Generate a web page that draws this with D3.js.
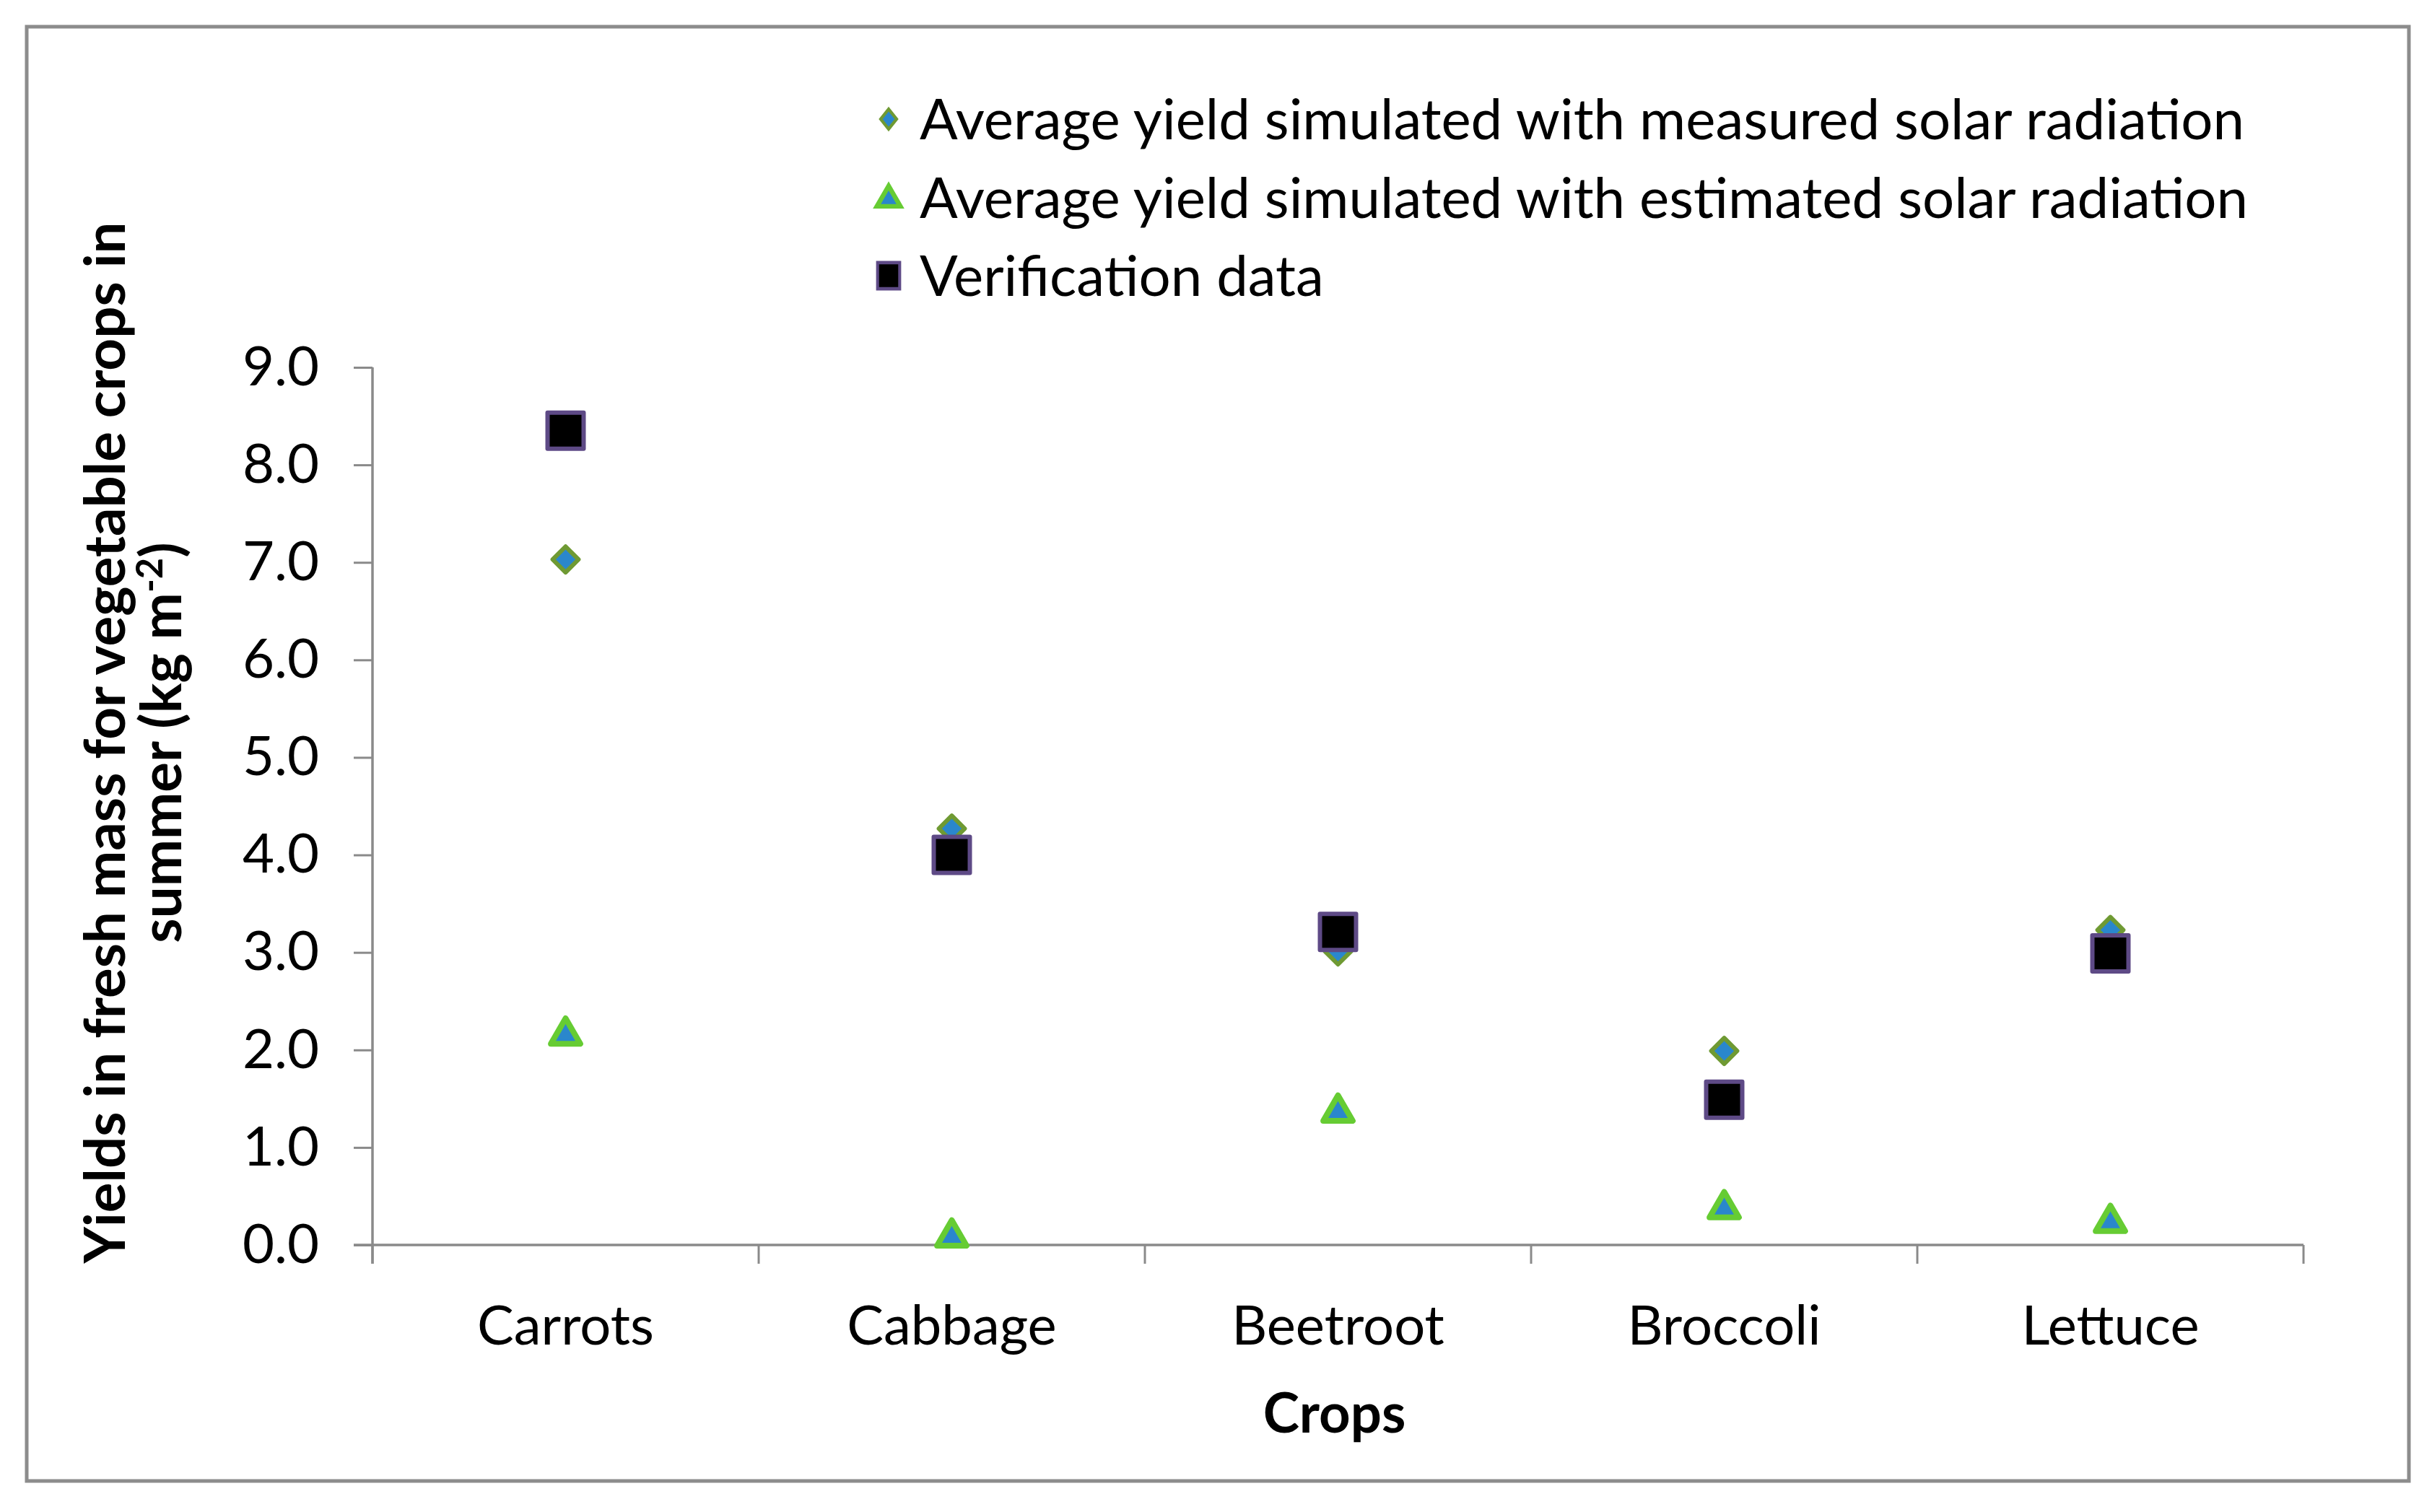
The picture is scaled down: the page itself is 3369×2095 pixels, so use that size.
<!DOCTYPE html>
<html>
<head>
<meta charset="utf-8">
<script src="https://cdn.jsdelivr.net/npm/d3@7"></script>
<style>
  body { margin: 0; background: #fff; }
  text { font-family: Lato, "Open Sans", sans-serif; fill: #000; }
</style>
</head>
<body>
<div id="chart"></div>
<script>
const crops = ['Carrots', 'Cabbage', 'Beetroot', 'Broccoli', 'Lettuce']
const measured = [7.03, 4.27, 3.01, 1.99, 3.23]
const estimated = [2.15, 0.08, 1.36, 0.37, 0.23]
const verification = [8.35, 4.0, 3.21, 1.49, 2.99]
const y_ticks = [0, 1, 2, 3, 4, 5, 6, 7, 8, 9]
const series_names = [
	'Average yield simulated with measured solar radiation',
	'Average yield simulated with estimated solar radiation',
	'Verification data'
]

const W = 3369, H = 2095
const margin = {top: 509, right: 178, bottom: 370, left: 516}
const width = W - margin.left - margin.right
const height = H - margin.top - margin.bottom
const fs = 76
const fs_big = 78

const x = d3.scaleBand().domain(crops).range([0, width])
const y = d3.scaleLinear().domain([0, 9]).range([height, 0])

const svg = d3.select('#chart').append('svg')
	.attr('width', W).attr('height', H)

svg.append('rect')
	.attr('x', 37).attr('y', 37)
	.attr('width', 3300).attr('height', 2015)
	.attr('fill', '#fff')
	.attr('stroke', '#8c8c8c')
	.attr('stroke-width', 5)

const g = svg.append('g').attr('transform', 'translate(' + [margin.left, margin.top] + ')')

// y axis
const y_axis = d3.axisLeft(y)
	.tickValues(y_ticks)
	.tickFormat(d3.format('.1f'))
	.tickSize(26)
	.tickPadding(48)
g.append('g').attr('class', 'y axis').call(y_axis)

// x axis, ticks between categories
const x_axis = d3.axisBottom(x).tickSize(0).tickPadding(84)
const xg = g.append('g').attr('class', 'x axis')
	.attr('transform', 'translate(0,' + height + ')')
	.call(x_axis)
xg.selectAll('.bound')
	.data(crops.map(c => x(c)).concat([width]))
	.enter().append('line')
	.attr('class', 'bound')
	.attr('x1', d => d).attr('x2', d => d)
	.attr('y1', 0).attr('y2', 26)

svg.selectAll('.axis line')
	.attr('stroke', '#8a8a8a')
	.attr('stroke-width', 3)
g.select('.y.axis .domain').remove()
g.select('.x.axis .domain').remove()
g.append('line').attr('class', 'axisline')
	.attr('x1', 0).attr('x2', 0).attr('y1', 0).attr('y2', height + 26)
g.append('line').attr('class', 'axisline')
	.attr('x1', -26).attr('x2', width).attr('y1', height).attr('y2', height)
g.selectAll('.axisline').attr('stroke', '#8a8a8a').attr('stroke-width', 3.5)

svg.selectAll('.axis text')
	.style('font-family', 'Lato, sans-serif')
	.style('font-size', fs + 'px')
	.attr('fill', '#000')

// axis titles
g.append('text')
	.attr('x', width / 2 - 5)
	.attr('y', height + 260)
	.attr('text-anchor', 'middle')
	.style('font-size', fs + 'px')
	.style('font-weight', 'bold')
	.text('Crops')

const yt = g.append('text')
	.attr('transform', 'translate(' + [-343, 520] + ') rotate(-90)')
	.attr('text-anchor', 'middle')
	.style('font-size', fs_big + 'px')
	.style('font-weight', 'bold')
yt.append('tspan').attr('x', 0).attr('dy', 0)
	.text('Yields in fresh mass for vegetable crops in')
const l2 = yt.append('tspan').attr('x', 0).attr('dy', 78)
l2.append('tspan').text('summer (kg m')
l2.append('tspan').attr('dy', -26).style('font-size', (fs_big * 0.65) + 'px').text('-2')
l2.append('tspan').attr('dy', 26).text(')')

// markers
const cx = d => x(d) + x.bandwidth() / 2
const diamond = d3.symbol().type(d3.symbolSquare).size(640)
const triangle = d3.symbol().type(d3.symbolTriangle).size(720)
const square = d3.symbol().type(d3.symbolSquare).size(2500)

const styles = [
	{shape: diamond, fill: '#2a87cc', stroke: '#6f9a33', sw: 6, rot: 45},
	{shape: triangle, fill: '#2a87cc', stroke: '#66cc33', sw: 8, rot: 0},
	{shape: square, fill: '#000', stroke: '#5e4a86', sw: 6, rot: 0}
]
const series = [measured, estimated, verification]

series.forEach((vals, i) => {
	const s = styles[i]
	g.selectAll('.pt' + i)
		.data(crops.map((c, j) => ({crop: c, v: vals[j]})))
		.enter().append('path')
		.attr('class', 'pt' + i)
		.attr('d', s.shape())
		.attr('transform', d => 'translate(' + [cx(d.crop), y(d.v)] + ') rotate(' + s.rot + ')')
		.attr('fill', s.fill)
		.attr('stroke', s.stroke)
		.attr('stroke-width', s.sw)
		.attr('stroke-linejoin', 'round')
})

// legend
const legend = svg.append('g').attr('transform', 'translate(1231,165)')
const legend_marks = [
	d3.symbol().type(d3.symbolSquare).size(380),
	d3.symbol().type(d3.symbolTriangle).size(460),
	d3.symbol().type(d3.symbolSquare).size(1300)
]
const items = legend.selectAll('.item')
	.data(series_names)
	.enter().append('g')
	.attr('class', 'item')
	.attr('transform', (d, i) => 'translate(0,' + (i * 108.5) + ')')
items.append('path')
	.attr('d', (d, i) => legend_marks[i]())
	.attr('transform', (d, i) => (i === 0 ? 'scale(0.8,1) rotate(45)' : '') + (i === 1 ? 'translate(0,3)' : '') + (i === 2 ? 'scale(0.85,1)' : ''))
	.attr('fill', (d, i) => styles[i].fill)
	.attr('stroke', (d, i) => styles[i].stroke)
	.attr('stroke-width', (d, i) => styles[i].sw * 0.8)
items.append('text')
	.attr('x', 43)
	.attr('dy', '0.36em')
	.style('font-size', fs_big + 'px')
	.text(d => d)
</script>
</body>
</html>
